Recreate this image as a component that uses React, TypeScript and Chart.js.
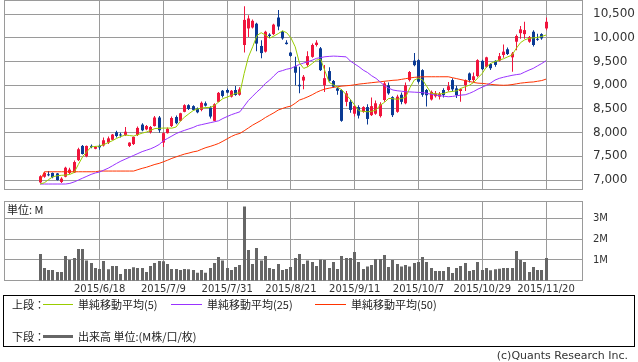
import React, { useEffect, useRef } from "react";
import { Chart, registerables } from "chart.js";
Chart.register(...registerables);

const dates = [
  "2015/5/29","2015/6/1","2015/6/2","2015/6/3","2015/6/4","2015/6/5","2015/6/8","2015/6/9","2015/6/10","2015/6/11",
  "2015/6/12","2015/6/15","2015/6/16","2015/6/17","2015/6/18","2015/6/19","2015/6/22","2015/6/23","2015/6/24","2015/6/25",
  "2015/6/26","2015/6/29","2015/6/30","2015/7/1","2015/7/2","2015/7/3","2015/7/6","2015/7/7","2015/7/8","2015/7/9",
  "2015/7/10","2015/7/13","2015/7/14","2015/7/15","2015/7/16","2015/7/17","2015/7/21","2015/7/22","2015/7/23","2015/7/24",
  "2015/7/27","2015/7/28","2015/7/29","2015/7/30","2015/7/31","2015/8/3","2015/8/4","2015/8/5","2015/8/6","2015/8/7",
  "2015/8/10","2015/8/11","2015/8/12","2015/8/13","2015/8/14","2015/8/17","2015/8/18","2015/8/19","2015/8/20","2015/8/21",
  "2015/8/24","2015/8/25","2015/8/26","2015/8/27","2015/8/28","2015/8/31","2015/9/1","2015/9/2","2015/9/3","2015/9/4",
  "2015/9/7","2015/9/8","2015/9/9","2015/9/10","2015/9/11","2015/9/14","2015/9/15","2015/9/16","2015/9/17","2015/9/18",
  "2015/9/24","2015/9/25","2015/9/28","2015/9/29","2015/9/30","2015/10/1","2015/10/2","2015/10/5","2015/10/6","2015/10/7",
  "2015/10/8","2015/10/9","2015/10/13","2015/10/14","2015/10/15","2015/10/16","2015/10/19","2015/10/20","2015/10/21","2015/10/22",
  "2015/10/23","2015/10/26","2015/10/27","2015/10/28","2015/10/29","2015/10/30","2015/11/2","2015/11/4","2015/11/5","2015/11/6",
  "2015/11/9","2015/11/10","2015/11/11","2015/11/12","2015/11/13","2015/11/16","2015/11/17","2015/11/18","2015/11/19","2015/11/20",
];

const tickDates = ["2015/6/18","2015/7/9","2015/7/31","2015/8/21","2015/9/11","2015/10/7","2015/10/29","2015/11/20"];

const open = [
  6950,7070,7120,7150,7140,6960,7070,7150,7160,7420,
  7720,7500,7720,7660,7720,7730,7790,7850,8010,7960,
  7950,7720,7760,7950,8170,8070,8010,8140,8320,7790,
  7990,8140,8330,8250,8440,8580,8560,8510,8480,8620,
  8530,8250,8650,8885,8900,8760,8900,8800,9850,10200,
  10220,10300,9830,9710,10070,10080,10430,10130,9900,9690,
  9400,9010,9100,9430,9600,9850,9780,9000,9300,9090,
  8935,8900,8650,8650,8400,8540,8440,8540,8370,8400,
  8350,8690,9000,8750,8440,8800,8620,9110,9520,9530,
  9320,8900,8700,8770,8760,8900,8900,9110,8935,8880,
  9005,9250,9110,9195,9515,9390,9450,9515,9520,9640,
  9760,9590,9920,10100,10080,9920,10130,9980,10080,10200,
];
const high = [
  7100,7170,7190,7160,7150,7060,7280,7260,7410,7680,
  7740,7730,7750,7720,7750,7900,7920,7970,8040,8000,
  8120,7800,7920,8130,8200,8160,8140,8350,8350,8010,
  8110,8340,8360,8420,8600,8600,8580,8530,8660,8660,
  8560,8620,8860,8900,8930,8900,8985,8960,10670,10480,
  10390,10320,9950,10150,10100,10300,10590,10150,9950,9700,
  9600,9390,9215,9720,9880,9950,9810,9430,9380,9110,
  8960,8920,8880,8700,8580,8580,8560,8600,8740,8680,
  8640,9080,9060,8770,8800,8850,9060,9300,9680,9550,
  9340,8920,8890,8880,8860,8940,9070,9150,8990,8940,
  9120,9270,9270,9550,9540,9600,9470,9530,9680,9860,
  9800,9700,10070,10250,10340,10040,10160,10090,10100,10430,
];
const low = [
  6930,7050,7080,7040,6990,6940,7060,7130,7150,7400,
  7540,7480,7670,7650,7640,7710,7760,7840,7900,7900,
  7930,7700,7740,7930,8030,8050,7980,8130,8000,7700,
  7980,8120,8180,8240,8430,8480,8470,8410,8450,8550,
  8300,8240,8640,8740,8830,8740,8780,8780,9690,10020,
  10200,9720,9570,9690,10000,10060,10160,9960,9860,9600,
  9000,8830,8915,9390,9580,9820,9300,8860,9080,8950,
  8800,8230,8560,8420,8340,8300,8420,8170,8350,8380,
  8320,8650,8800,8330,8420,8600,8600,9080,9400,9040,
  8760,8550,8680,8740,8700,8740,8870,8870,8730,8650,
  8880,9060,9050,9170,9320,9370,9320,9390,9500,9580,
  9640,9285,9740,9980,9980,9900,9820,9940,9960,10160,
];
const close = [
  7080,7150,7100,7060,7000,7030,7260,7220,7380,7650,
  7550,7720,7700,7700,7690,7840,7880,7960,7930,7940,
  8020,7790,7910,8100,8050,8140,8120,8320,8050,7990,
  8080,8310,8200,8410,8580,8500,8480,8430,8630,8570,
  8340,8600,8840,8775,8845,8885,8795,8915,10380,10410,
  10360,9880,9680,10130,10040,10280,10240,9990,9870,9620,
  9265,8980,9180,9615,9850,9900,9320,9150,9095,8970,
  8885,8250,8830,8480,8560,8360,8540,8290,8560,8620,
  8600,9040,8830,8370,8760,8650,9000,9280,9425,9075,
  8800,8790,8860,8830,8820,8795,8980,8915,8795,8920,
  9110,9110,9190,9530,9340,9590,9360,9430,9615,9710,
  9660,9670,10040,10180,10165,10020,9850,9960,9990,10340,
];

// volume in millions of shares
const volume = [
  1.29,0.61,0.52,0.52,0.42,0.42,1.19,1.0,1.10,1.53,
  1.53,0.98,0.85,0.61,0.56,0.95,0.55,0.71,0.71,0.32,
  0.56,0.56,0.65,0.61,0.61,0.42,0.71,0.85,0.95,0.94,
  0.81,0.56,0.56,0.52,0.56,0.55,0.52,0.39,0.52,0.39,
  0.61,0.85,1.15,0.97,0.61,0.52,0.66,0.76,3.58,1.48,
  0.81,1.58,0.97,1.19,0.61,0.56,0.81,0.52,0.56,0.66,
  1.10,1.29,0.81,0.97,0.90,0.71,1.03,1.0,0.61,0.90,
  0.56,1.19,1.10,1.10,1.39,0.90,0.56,0.68,0.76,1.05,
  1.05,1.24,0.66,1.0,0.81,0.68,0.76,0.68,0.85,0.90,
  1.15,0.90,0.61,0.47,0.47,0.47,0.66,0.37,0.61,0.71,
  0.85,0.47,0.52,0.90,0.52,0.61,0.50,0.55,0.58,0.61,
  0.61,0.61,1.44,1.0,0.90,0.42,0.66,0.52,0.52,1.10,
];

const ma5 = [
  6916,6943,7010,7070,7090,7100,7105,7120,7160,7330,
  7492,7600,7700,7710,7717,7750,7790,7830,7880,7918,
  7950,7940,7928,7960,7990,8013,8050,8087,8092,8097,
  8097,8095,8120,8245,8330,8400,8466,8500,8520,8530,
  8534,8572,8650,8720,8750,8790,8830,8842,9250,9600,
  9813,10050,10110,10060,9995,10040,10090,10150,10110,10000,
  9813,9470,9357,9391,9460,9532,9547,9300,9060,9010,
  8960,8900,8800,8700,8580,8462,8450,8441,8450,8477,
  8580,8640,8723,8715,8705,8720,8750,8950,9110,9150,
  9110,8970,8830,8820,8815,8830,8860,8870,8885,8935,
  8970,9004,9060,9160,9251,9391,9462,9500,9532,9560,
  9600,9637,9779,9900,9960,9990,10000,10011,10030,10060,
];
const ma25 = [
  6916,6916,6916,6916,6916,6916,6916,6930,6960,7000,
  7040,7080,7120,7150,7170,7210,7250,7300,7352,7400,
  7440,7480,7520,7560,7600,7630,7660,7700,7750,7830,
  7880,7930,7980,8019,8050,8080,8110,8150,8170,8190,
  8210,8230,8251,8300,8340,8380,8410,8441,8560,8680,
  8770,8860,8940,9040,9110,9200,9285,9310,9340,9357,
  9400,9441,9470,9497,9530,9568,9585,9602,9610,9616,
  9612,9606,9600,9510,9450,9391,9320,9270,9200,9146,
  9070,8990,8940,8900,8885,8875,8863,8860,8855,8850,
  8845,8830,8810,8795,8780,8770,8758,8765,8780,8793,
  8800,8830,8870,8920,8960,9000,9050,9110,9146,9170,
  9190,9210,9225,9237,9280,9320,9357,9410,9460,9518,
];
const ma50 = [
  6980,7175,7175,7175,7175,7175,7175,7175,7175,7175,
  7175,7175,7175,7175,7190,7190,7190,7190,7190,7190,
  7190,7190,7190,7220,7247,7270,7300,7330,7352,7385,
  7420,7458,7490,7520,7549,7570,7595,7612,7650,7685,
  7710,7740,7773,7820,7870,7920,7960,7985,8040,8100,
  8160,8210,8260,8320,8370,8420,8477,8510,8540,8561,
  8620,8688,8720,8758,8800,8850,8890,8920,8940,8956,
  8970,8983,8990,8998,9010,9025,9035,9045,9055,9065,
  9074,9085,9095,9105,9110,9125,9140,9155,9167,9175,
  9178,9180,9180,9180,9180,9180,9180,9160,9140,9120,
  9100,9080,9060,9045,9040,9030,9020,9010,9004,9000,
  9004,9015,9030,9045,9055,9065,9070,9085,9100,9130,
];

const priceTicks = [7000, 7500, 8000, 8500, 9000, 9500, 10000, 10500];
const volumeTicks = [1, 2, 3];

const X_MIN = -8.5;
const X_MAX = 127.7;
const UP = "#f0143c";
const DOWN = "#0a3a94";
const GRID = "#9a9a9a";

const framePlugin = {
  id: "frame",
  beforeDatasetsDraw(chart: any) {
    const { ctx, chartArea: a } = chart;
    ctx.save();
    ctx.strokeStyle = GRID;
    ctx.lineWidth = 1;
    const l = Math.round(a.left), t = Math.round(a.top);
    const r = Math.round(a.right), b = Math.round(a.bottom);
    ctx.strokeRect(l + 0.5, t + 0.5, r - l - 1, b - t - 1);
    ctx.restore();
  },
};

// snap bar centres to half pixels so odd-width bars render crisply
const snapPlugin = {
  id: "snap",
  afterDatasetsUpdate(chart: any) {
    chart.getSortedVisibleDatasetMetas().forEach((meta: any) => {
      if (meta.type !== "bar") return;
      meta.data.forEach((el: any) => {
        el.x = Math.floor(el.x) + 0.5;
      });
    });
  },
};

export default function App() {
  const mainRef = useRef<HTMLCanvasElement>(null);
  const volRef = useRef<HTMLCanvasElement>(null);

  useEffect(() => {
    const tickIdx = tickDates.map((d) => dates.indexOf(d));
    const colors = close.map((c, i) => (c >= open[i] ? UP : DOWN));

    const xScale = (labels: boolean, height: number) => ({
      type: "linear",
      min: X_MIN,
      max: X_MAX,
      offset: false,
      grid: { color: GRID, lineWidth: 1, drawTicks: false, offset: false },
      border: { display: false },
      ticks: {
        display: labels,
        autoSkip: false,
        maxRotation: 0,
        minRotation: 0,
        padding: 3,
        color: "#333",
        font: { family: "DejaVu Sans", size: 10 },
        callback: (v: any) => dates[v] ?? "",
      },
      afterBuildTicks: (s: any) => {
        s.ticks = tickIdx.map((v) => ({ value: v }));
      },
      afterFit: (s: any) => {
        s.height = height;
        s.paddingLeft = 0;
        s.paddingRight = 0;
      },
    });

    const yScale = (min: number, max: number, ticks: number[], fmt: (v: number) => string, size: number) => ({
      position: "right",
      min,
      max,
      grid: { color: GRID, lineWidth: 1, drawTicks: false },
      border: { display: false },
      ticks: {
        padding: 10,
        color: "#333",
        font: { family: "DejaVu Sans", size },
        callback: (v: any) => fmt(Number(v)),
      },
      afterBuildTicks: (s: any) => {
        s.ticks = ticks.map((v) => ({ value: v }));
      },
      afterFit: (s: any) => {
        s.width = 55;
        s.paddingTop = 0;
        s.paddingBottom = 0;
      },
    });

    const line = (data: number[], color: string) => ({
      type: "line",
      data: data.map((y, i) => ({ x: i, y })),
      borderColor: color,
      borderWidth: 1,
      pointRadius: 0,
      tension: 0,
      order: 0,
    });

    const main = new Chart(mainRef.current as HTMLCanvasElement, {
      type: "bar",
      data: {
        datasets: [
          line(ma5, "#99cc00"),
          line(ma25, "#9933ff"),
          line(ma50, "#ff3300"),
          {
            type: "bar",
            data: open.map((o, i) => ({ x: i, y: [o, close[i]] })),
            backgroundColor: colors,
            maxBarThickness: 3,
            minBarLength: 1,
            grouped: false,
            order: 1,
          },
          {
            type: "bar",
            data: low.map((l, i) => ({ x: i, y: [l, high[i]] })),
            backgroundColor: colors,
            maxBarThickness: 1,
            grouped: false,
            order: 2,
          },
        ] as any,
      },
      options: {
        animation: false,
        responsive: false,
        maintainAspectRatio: false,
        events: [],
        layout: { padding: { left: 4, right: 0, top: 0, bottom: 6 } },
        plugins: { legend: { display: false }, tooltip: { enabled: false } },
        scales: {
          x: xScale(false, 0),
          y: yScale(6790, 10800, priceTicks, (v) => v.toLocaleString("en-US"), 12),
        } as any,
      },
      plugins: [framePlugin, snapPlugin],
    });

    const vol = new Chart(volRef.current as HTMLCanvasElement, {
      type: "bar",
      data: {
        datasets: [
          {
            data: volume.map((v, i) => ({ x: i, y: v })),
            backgroundColor: "#666666",
            maxBarThickness: 3,
            grouped: false,
          },
        ] as any,
      },
      options: {
        animation: false,
        responsive: false,
        maintainAspectRatio: false,
        events: [],
        layout: { padding: { left: 4, right: 0, top: 6, bottom: 0 } },
        plugins: { legend: { display: false }, tooltip: { enabled: false } },
        scales: {
          x: xScale(true, 14.3),
          y: yScale(0, 3.85, volumeTicks, (v) => v + "M", 10),
        } as any,
      },
      plugins: [framePlugin, snapPlugin],
    });

    return () => {
      main.destroy();
      vol.destroy();
    };
  }, []);

  const jp = "'Noto Sans CJK JP', 'Noto Sans', sans-serif";
  const txt = (left: number, top: number, s: string) => (
    <span
      style={{
        position: "absolute",
        left,
        top,
        fontFamily: jp,
        fontSize: 11,
        lineHeight: "14px",
        color: "#222",
        whiteSpace: "nowrap",
      }}
    >
      {s}
    </span>
  );
  const bar = (left: number, top: number, width: number, height: number, color: string) => (
    <div style={{ position: "absolute", left, top, width, height, background: color }} />
  );

  return (
    <div
      style={{
        position: "absolute",
        left: 0,
        top: 0,
        width: 638,
        height: 362,
        background: "#fff",
        overflow: "hidden",
      }}
    >
      <canvas
        ref={mainRef}
        width={638}
        height={196}
        style={{ position: "absolute", left: 0, top: 0, width: 638, height: 196 }}
      />
      <canvas
        ref={volRef}
        width={638}
        height={100}
        style={{ position: "absolute", left: 0, top: 195, width: 638, height: 100 }}
      />
      {txt(7, 202, "単位: M")}
      <div
        style={{
          position: "absolute",
          left: 3,
          top: 295,
          width: 632,
          height: 52,
          border: "1px solid #000",
          boxSizing: "border-box",
        }}
      />
      {txt(12, 297, "上段：")}
      {bar(43, 304, 30, 1, "#99cc00")}
      {txt(78, 297, "単純移動平均(5)")}
      {bar(171, 304, 31, 1, "#9933ff")}
      {txt(207, 297, "単純移動平均(25)")}
      {bar(315, 304, 31, 1, "#ff3300")}
      {txt(351, 297, "単純移動平均(50)")}
      {txt(12, 329, "下段：")}
      {bar(43, 335, 30, 3, "#666666")}
      {txt(78, 329, "出来高 単位:(M株/口/枚)")}
      <span
        style={{
          position: "absolute",
          right: 10,
          top: 349,
          fontFamily: "'DejaVu Sans', sans-serif",
          fontSize: 11,
          lineHeight: "13px",
          color: "#333",
          whiteSpace: "nowrap",
        }}
      >
        (c)Quants Research Inc.
      </span>
    </div>
  );
}
